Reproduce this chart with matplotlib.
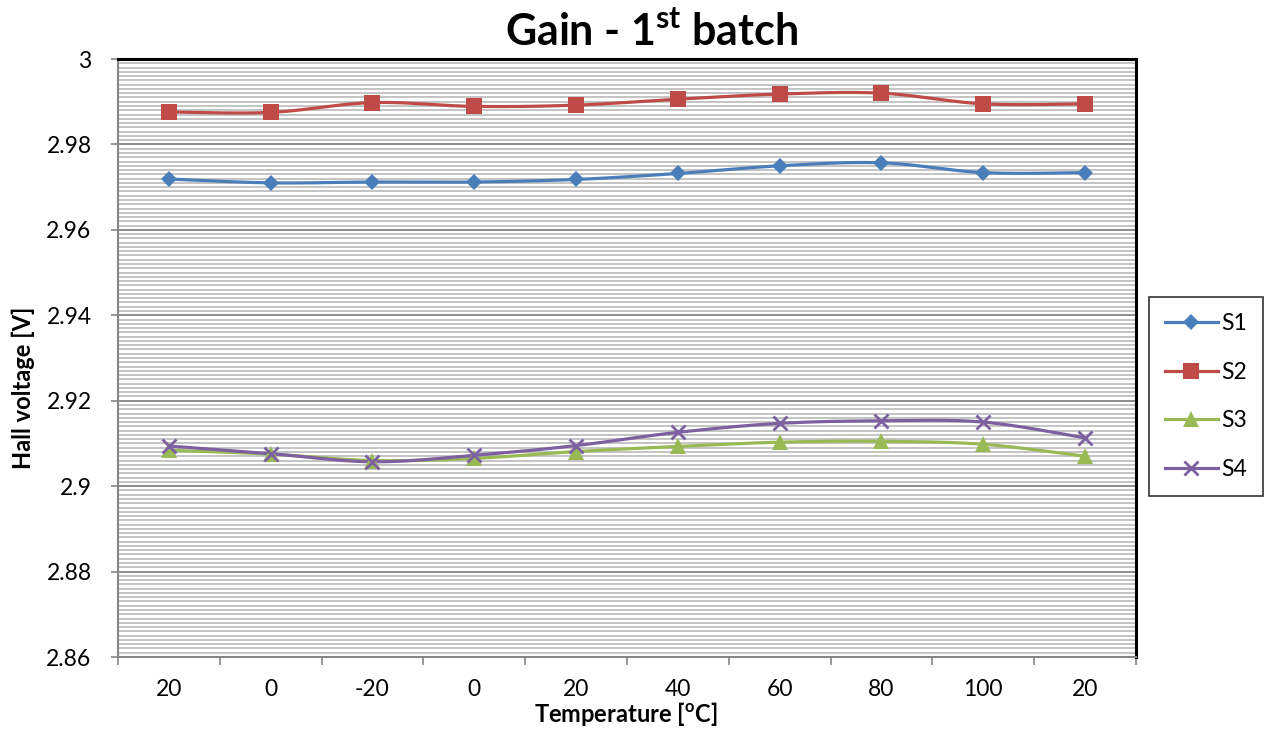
import numpy as np
import matplotlib
matplotlib.use("Agg")
import matplotlib.pyplot as plt
from matplotlib.lines import Line2D

plt.rcParams['font.family'] = ['Lato', 'DejaVu Sans']
plt.rcParams['mathtext.fontset'] = 'custom'
plt.rcParams['mathtext.rm'] = 'Lato'
plt.rcParams['mathtext.bf'] = 'Lato:bold'

# Temperature steps of the cycle (category axis)
temperatures = ["20", "0", "-20", "0", "20", "40", "60", "80", "100", "20"]

# Hall voltage [V] for each sensor
s1 = [2.9719, 2.9710, 2.9712, 2.9712, 2.9718, 2.9732, 2.9750, 2.9757, 2.9734, 2.9734]
s2 = [2.9876, 2.9875, 2.9898, 2.9889, 2.9892, 2.9906, 2.9918, 2.9920, 2.9895, 2.9895]
s3 = [2.9084, 2.9075, 2.9060, 2.9065, 2.9081, 2.9093, 2.9103, 2.9105, 2.9098, 2.9070]
s4 = [2.9094, 2.9076, 2.9057, 2.9072, 2.9095, 2.9126, 2.9147, 2.9153, 2.9150, 2.9113]

series = [
    ("S1", s1, "#4A7EBB", "D", 8.5, 0.0),
    ("S2", s2, "#BE4B48", "s", 11, 0.0),
    ("S3", s3, "#98B954", "^", 11, 0.0),
    ("S4", s4, "#7D60A0", "x", 10, 2.0),
]

TICK_FS = 16.5
LABEL_FS = 17


def smooth(xs, ys, n=30):
    """Bezier smoothing through every point (Catmull-Rom style control points)."""
    xs = np.asarray(xs, float)
    ys = np.asarray(ys, float)
    pts = np.column_stack([xs, ys])
    out = []
    m = len(pts)
    for i in range(m - 1):
        p0 = pts[max(i - 1, 0)]
        p1 = pts[i]
        p2 = pts[i + 1]
        p3 = pts[min(i + 2, m - 1)]
        c1 = p1 + (p2 - p0) / 6.0
        c2 = p2 - (p3 - p1) / 6.0
        t = np.linspace(0, 1, n)[:, None]
        seg = ((1 - t) ** 3) * p1 + 3 * ((1 - t) ** 2) * t * c1 + 3 * (1 - t) * t ** 2 * c2 + t ** 3 * p2
        out.append(seg if i == 0 else seg[1:])
    seg = np.vstack(out)
    return seg[:, 0], seg[:, 1]


fig = plt.figure(figsize=(12.64, 7.31), dpi=100)
ax = fig.add_axes([118 / 1264, 1 - 657 / 731, (1136 - 118) / 1264, (657 - 59) / 731])

xpos = np.arange(len(temperatures)) + 0.5

# gridlines: fine every 0.001, major every 0.02
for v in np.arange(2.860, 3.0001, 0.001):
    ax.axhline(v, color="#b4b4b4", lw=1.1, zorder=0)
for v in np.arange(2.86, 3.0001, 0.02):
    ax.axhline(v, color="#868686", lw=1.2, zorder=0.5)

handles = []
for name, vals, col, mk, ms, mew in series:
    sx, sy = smooth(xpos, vals)
    ax.plot(sx, sy, color=col, lw=2.3, zorder=2, solid_capstyle='round')
    if mk == "x":
        ax.plot(xpos, vals, linestyle='none', marker=mk, ms=ms, mew=mew, color=col, zorder=3)
    else:
        ax.plot(xpos, vals, linestyle='none', marker=mk, ms=ms, markeredgewidth=0, color=col, zorder=3)
    handles.append(Line2D([], [], color=col, lw=2.3, marker=mk, ms=ms,
                          mew=(mew if mk == "x" else 0)))

ax.set_xlim(0, len(temperatures))
ax.set_ylim(2.86, 3.0)

ax.set_xticks(np.arange(0, len(temperatures) + 1))
ax.set_xticklabels([])
ax.set_xticks(xpos, minor=True)
ax.set_xticklabels(temperatures, minor=True)
ax.tick_params(axis='x', which='major', direction='out', length=6, width=1.2, color="#868686")
ax.tick_params(axis='x', which='minor', length=0, pad=16, labelsize=TICK_FS)

yt = np.arange(2.86, 3.0001, 0.02)
ax.set_yticks(yt)
ax.set_yticklabels(["2.86", "2.88", "2.9", "2.92", "2.94", "2.96", "2.98", "3"])
ax.tick_params(axis='y', direction='out', length=5, width=1.2, color="#868686", pad=14, labelsize=TICK_FS)

for side in ("left", "bottom"):
    ax.spines[side].set_color("#868686")
    ax.spines[side].set_linewidth(1.5)
for side in ("top", "right"):
    ax.spines[side].set_color("black")
    ax.spines[side].set_linewidth(2.2)

fig.text(652 / 1264, 1 - 32 / 731, r"Gain - 1$^{\mathbf{st}}$ batch", ha='center', va='center',
         fontsize=31, fontweight='bold')
fig.text(626 / 1264, 1 - 714 / 731, r"Temperature [$^{\mathbf{o}}$C]", ha='center', va='center',
         fontsize=LABEL_FS, fontweight='bold')
fig.text(23 / 1264, 1 - 388 / 731, "Hall voltage [V]", ha='center', va='center', rotation=90,
         fontsize=LABEL_FS, fontweight='bold')

leg = fig.legend(handles, [s[0] for s in series], loc='upper left',
                 bbox_to_anchor=(1149 / 1264, 1 - 297 / 731), frameon=True, fancybox=False,
                 edgecolor='black', fontsize=TICK_FS, handlelength=2.3, handletextpad=0.15,
                 labelspacing=1.2, borderpad=0.7, borderaxespad=0)
leg.get_frame().set_linewidth(1.2)

fig.savefig("out.png", dpi=100)
